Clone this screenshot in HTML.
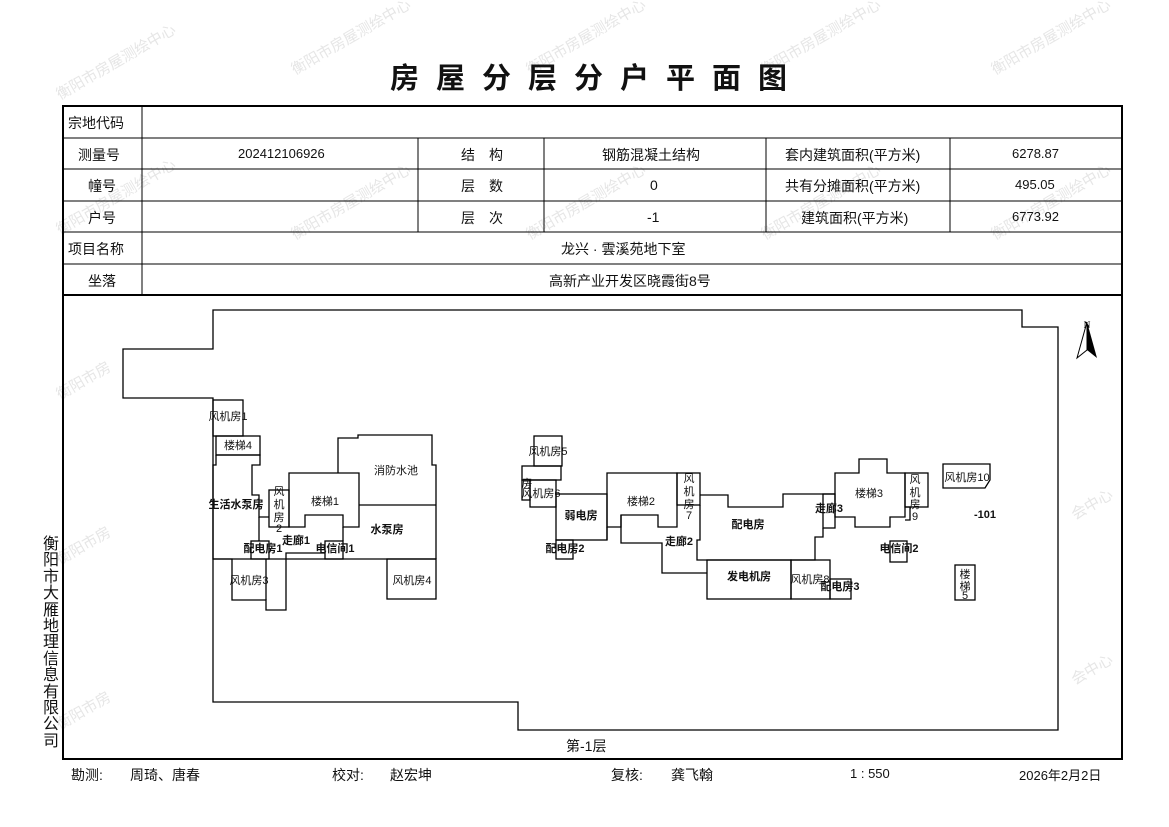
<!DOCTYPE html>
<html><head><meta charset="utf-8"><style>
body{margin:0;width:1169px;height:827px;background:#fff;position:relative;overflow:hidden;font-family:"Liberation Sans","Noto Sans CJK SC",sans-serif;}
.t{position:absolute;font-size:14px;color:#111;white-space:nowrap;}
svg{position:absolute;left:0;top:0;}
</style></head><body>
<svg width="1169" height="827" viewBox="0 0 1169 827">
<g font-family="Liberation Sans, Noto Sans CJK SC, sans-serif" fill="#e6e6e6" font-size="15">
<text transform="translate(60,100) rotate(-30)">衡阳市房屋测绘中心</text>
<text transform="translate(295,75) rotate(-30)">衡阳市房屋测绘中心</text>
<text transform="translate(530,75) rotate(-30)">衡阳市房屋测绘中心</text>
<text transform="translate(765,75) rotate(-30)">衡阳市房屋测绘中心</text>
<text transform="translate(995,75) rotate(-30)">衡阳市房屋测绘中心</text>
<text transform="translate(60,235) rotate(-30)">衡阳市房屋测绘中心</text>
<text transform="translate(295,240) rotate(-30)">衡阳市房屋测绘中心</text>
<text transform="translate(530,240) rotate(-30)">衡阳市房屋测绘中心</text>
<text transform="translate(765,240) rotate(-30)">衡阳市房屋测绘中心</text>
<text transform="translate(995,240) rotate(-30)">衡阳市房屋测绘中心</text>
<text transform="translate(60,400) rotate(-30)">衡阳市房</text>
<text transform="translate(60,565) rotate(-30)">衡阳市房</text>
<text transform="translate(60,730) rotate(-30)">衡阳市房</text>
<text transform="translate(1075,520) rotate(-30)">会中心</text>
<text transform="translate(1075,685) rotate(-30)">会中心</text>
</g>
<text x="597" y="88" text-anchor="middle" font-size="29" font-weight="bold" letter-spacing="17" font-family="Liberation Sans, Noto Sans CJK SC, sans-serif" fill="#111">房屋分层分户平面图</text>
<g stroke="#000" fill="none">
<rect x="63" y="106" width="1059" height="653" stroke-width="2"/>
<g stroke-width="1">
<line x1="63" y1="138" x2="1122" y2="138"/><line x1="63" y1="169" x2="1122" y2="169"/>
<line x1="63" y1="201" x2="1122" y2="201"/><line x1="63" y1="232" x2="1122" y2="232"/>
<line x1="63" y1="264" x2="1122" y2="264"/>
<line x1="142" y1="106" x2="142" y2="295"/>
<line x1="418" y1="138" x2="418" y2="232"/><line x1="544" y1="138" x2="544" y2="232"/>
<line x1="766" y1="138" x2="766" y2="232"/><line x1="950" y1="138" x2="950" y2="232"/>
</g>
<line x1="63" y1="295" x2="1122" y2="295" stroke-width="2"/>
<g stroke-width="1.3">
<polygon points="213,310 1022,310 1022,327 1058,327 1058,730 518,730 518,702 213,702 213,398 123,398 123,349 213,349"/>
<rect x="213" y="400" width="30" height="36"/>
<rect x="216" y="436" width="44" height="19"/>
<polyline points="216,455 260,455 260,465 252,465 252,495 259,495 259,517 269,517"/>
<polyline points="216,455 216,465 213,465 213,559 232,559 232,600 266,600 266,610 286,610 286,553 325,553"/>
<line x1="213" y1="559" x2="436" y2="559"/>
<rect x="269" y="490" width="20" height="37"/>
<polygon points="289,473 359,473 359,527 343,527 343,515 305,515 305,527 289,527"/>
<polyline points="338,473 338,438 358,438 358,435 432,435 432,465 436,465 436,559"/>
<line x1="359" y1="505" x2="436" y2="505"/>
<polyline points="343,527 343,541"/>
<rect x="251" y="541" width="18" height="18"/>
<rect x="325" y="541" width="18" height="18"/>
<polyline points="259,517 259,541"/>
<line x1="266" y1="559" x2="266" y2="600"/>
<rect x="387" y="559" width="49" height="40"/>
<rect x="534" y="436" width="28" height="30"/>
<rect x="522" y="466" width="39" height="14"/>
<rect x="530" y="480" width="26" height="27"/>
<rect x="522" y="480" width="8" height="20"/>
<rect x="556" y="494" width="51" height="46"/>
<rect x="556" y="540" width="17" height="19"/>
<polygon points="607,473 677,473 677,527 658,527 658,515 621,515 621,527 607,527"/>
<polyline points="607,527 607,540"/>
<polyline points="621,515 621,543 662,543 662,573 707,573"/>
<rect x="677" y="473" width="23" height="32"/>
<polyline points="700,495 728,495 728,507 783,507 783,494 835,494"/>
<polyline points="700,505 700,540 697,540 697,560 815,560 815,537 823,537 823,528"/>
<rect x="823" y="494" width="12" height="34"/>
<rect x="707" y="560" width="84" height="39"/>
<rect x="791" y="560" width="39" height="39"/>
<rect x="830" y="579" width="21" height="20"/>
<polygon points="835,473 859,473 859,459 887,459 887,473 905,473 905,517 890,517 890,527 855,527 855,517 835,517"/>
<rect x="905" y="473" width="23" height="34"/>
<polyline points="905,507 910,507 910,520 905,520"/>
<rect x="890" y="541" width="17" height="21"/>
<polygon points="943,464 990,464 990,480 985,488 943,488"/>
<rect x="955" y="565" width="20" height="35"/>
</g>
</g>
<polygon points="1087,322 1077,358 1087,350" fill="#fff" stroke="#000"/>
<polygon points="1087,322 1097,358 1087,350" fill="#000"/>
<text x="1087" y="328" font-size="9" font-weight="bold" text-anchor="middle" font-family="Liberation Serif,serif">N</text>
<g font-family="Liberation Sans, Noto Sans CJK SC, sans-serif" font-size="11" fill="#111" text-anchor="middle">
<text x="228" y="420">风机房1</text><text x="238" y="449">楼梯4</text>
<text x="236" y="508" font-weight="bold">生活水泵房</text><text x="263" y="552" font-weight="bold">配电房1</text>
<text x="296" y="544" font-weight="bold">走廊1</text><text x="335" y="552" font-weight="bold">电信间1</text>
<text x="396" y="474">消防水池</text><text x="325" y="505">楼梯1</text><text x="387" y="533" font-weight="bold">水泵房</text>
<text x="279" y="495">风</text><text x="279" y="508">机</text><text x="279" y="521">房</text><text x="279" y="532">2</text>
<text x="249" y="584">风机房3</text><text x="412" y="584">风机房4</text>
<text x="548" y="455">风机房5</text><text x="541" y="497">风机房6</text><text x="527" y="487">房</text>
<text x="581" y="519" font-weight="bold">弱电房</text><text x="565" y="552" font-weight="bold">配电房2</text>
<text x="641" y="505">楼梯2</text><text x="679" y="545" font-weight="bold">走廊2</text>
<text x="689" y="482">风</text><text x="689" y="495">机</text><text x="689" y="508">房</text><text x="689" y="519">7</text>
<text x="748" y="528" font-weight="bold">配电房</text><text x="749" y="580" font-weight="bold">发电机房</text>
<text x="810" y="583">风机房8</text><text x="840" y="590" font-weight="bold">配电房3</text>
<text x="829" y="512" font-weight="bold">走廊3</text><text x="869" y="497">楼梯3</text>
<text x="915" y="483">风</text><text x="915" y="496">机</text><text x="915" y="508">房</text><text x="915" y="520">9</text>
<text x="899" y="552" font-weight="bold">电信间2</text><text x="967" y="481">风机房10</text>
<text x="985" y="518" font-weight="bold">-101</text>
<text x="965" y="578">楼</text><text x="965" y="590">梯</text><text x="965" y="599">5</text>
</g>
</svg>
<div class="t" style="left:68px;top:113px">宗地代码</div>
<div class="t" style="left:78px;top:145px">测量号</div>
<div class="t" style="left:88px;top:176px">幢号</div>
<div class="t" style="left:88px;top:208px">户号</div>
<div class="t" style="left:68px;top:239px">项目名称</div>
<div class="t" style="left:88px;top:271px">坐落</div>
<div class="t" style="left:238px;top:146px;font-size:13px">202412106926</div>
<div class="t" style="left:461px;top:145px">结　构</div>
<div class="t" style="left:461px;top:176px">层　数</div>
<div class="t" style="left:461px;top:208px">层　次</div>
<div class="t" style="left:602px;top:145px">钢筋混凝土结构</div>
<div class="t" style="left:650px;top:177px">0</div>
<div class="t" style="left:647px;top:209px">-1</div>
<div class="t" style="left:785px;top:145px">套内建筑面积(平方米)</div>
<div class="t" style="left:785px;top:176px">共有分摊面积(平方米)</div>
<div class="t" style="left:801px;top:208px">建筑面积(平方米)</div>
<div class="t" style="left:1012px;top:146px;font-size:13px">6278.87</div>
<div class="t" style="left:1015px;top:177px;font-size:13px">495.05</div>
<div class="t" style="left:1012px;top:209px;font-size:13px">6773.92</div>
<div class="t" style="left:561px;top:239px">龙兴 · 雲溪苑地下室</div>
<div class="t" style="left:549px;top:271px">高新产业开发区晓霞街8号</div>
<div class="t" style="left:566px;top:736px">第-1层</div>
<div class="t" style="left:42px;top:537px;width:18px;font-size:16px;line-height:16.4px;white-space:normal;text-align:center">衡阳市大雁地理信息有限公司</div>
<div class="t" style="left:71px;top:765px">勘测:</div>
<div class="t" style="left:130px;top:765px">周琦、唐春</div>
<div class="t" style="left:332px;top:765px">校对:</div>
<div class="t" style="left:390px;top:765px">赵宏坤</div>
<div class="t" style="left:611px;top:765px">复核:</div>
<div class="t" style="left:671px;top:765px">龚飞翰</div>
<div class="t" style="left:850px;top:766px;font-size:13px">1 : 550</div>
<div class="t" style="left:1019px;top:765px;font-size:13px">2026年2月2日</div>
</body></html>
